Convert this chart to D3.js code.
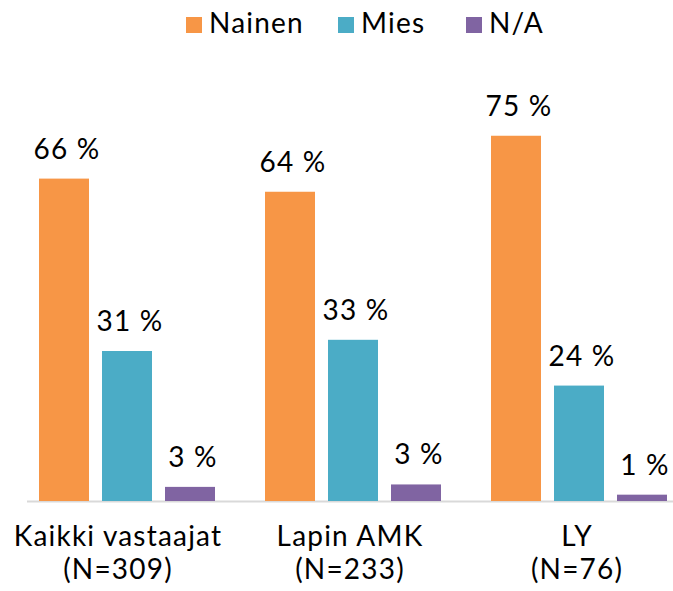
<!DOCTYPE html>
<html>
<head>
<meta charset="utf-8">
<script src="https://cdn.jsdelivr.net/npm/d3@7"></script>
<style>
  body { margin: 0; background: #fff; }
  text { font-family: Lato, "Open Sans", sans-serif; fill: #000; letter-spacing: 1.2px; }
</style>
</head>
<body>
<div id="chart"></div>
<script>
const categories = ['Kaikki vastaajat|(N=309)', 'Lapin AMK|(N=233)', 'LY|(N=76)'];
const series = ['Nainen', 'Mies', 'N/A'];
const nainen = [66.2, 63.5, 75.0];
const mies = [30.8, 33.1, 23.7];
const na = [2.9, 3.4, 1.3];
const labels = [['66 %', '64 %', '75 %'], ['31 %', '33 %', '24 %'], ['3 %', '3 %', '1 %']];
const colors = ['#F79646', '#4BACC6', '#8064A2'];

(function() {
  let width = 673;
  let height = 591;
  let svg = d3.select('#chart')
    .append('svg')
    .attr('width', width)
    .attr('height', height);

  let values = [nainen, mies, na];
  let data = categories.map((c, i) => ({
    cat: c,
    vals: series.map((s, j) => ({ s, j, v: values[j][i], label: labels[j][i] }))
  }));

  let x0 = d3.scaleBand().domain(categories).range([14, 692])
    .paddingInner(50 / 226).paddingOuter(25 / 226);
  let x1 = d3.scaleBand().domain(series).range([0, x0.bandwidth()])
    .paddingInner(13 / 63).paddingOuter(0);
  let y = d3.scaleLinear().domain([0, 100]).range([501, 14]);

  // axis line
  svg.append('line')
    .attr('x1', 27).attr('x2', 673)
    .attr('y1', y(0) + 0.5).attr('y2', y(0) + 0.5)
    .attr('stroke', '#D9D9D9')
    .attr('stroke-width', 2);

  let g = svg.selectAll('.group')
    .data(data)
    .enter().append('g')
    .attr('class', 'group')
    .attr('transform', d => `translate(${x0(d.cat)},0)`);

  g.selectAll('rect')
    .data(d => d.vals)
    .enter().append('rect')
    .attr('x', d => x1(d.s))
    .attr('width', x1.bandwidth())
    .attr('y', d => y(d.v))
    .attr('height', d => y(0) - y(d.v))
    .attr('fill', d => colors[d.j]);

  g.selectAll('.lbl')
    .data(d => d.vals)
    .enter().append('text')
    .attr('class', 'lbl')
    .attr('x', d => x1(d.s) + x1.bandwidth() / 2 + 3)
    .attr('y', d => y(d.v) - 20)
    .attr('text-anchor', 'middle')
    .style('font-size', '28px')
    .text(d => d.label);

  // category labels
  let cat = svg.selectAll('.cat')
    .data(categories)
    .enter().append('text')
    .attr('class', 'cat')
    .attr('text-anchor', 'middle')
    .style('font-size', '28px')
    .attr('transform', (d, i) => `translate(${x0(d) + x0.bandwidth() / 2 + [-9, -3, -2][i]},546)`);
  cat.selectAll('tspan')
    .data(d => d.split('|'))
    .enter().append('tspan')
    .attr('x', 0)
    .attr('y', (d, i) => i * 33)
    .text(d => d);

  // legend
  let legX = [186, 338, 466];
  let leg = svg.selectAll('.leg')
    .data(series)
    .enter().append('g')
    .attr('class', 'leg')
    .attr('transform', (d, i) => `translate(${legX[i]},0)`);
  leg.append('rect')
    .attr('x', 0).attr('y', 17)
    .attr('width', 16).attr('height', 16)
    .attr('fill', (d, i) => colors[i]);
  leg.append('text')
    .attr('x', 23).attr('y', 33)
    .style('font-size', '28px')
    .text(d => d);
})();
</script>
</body>
</html>
